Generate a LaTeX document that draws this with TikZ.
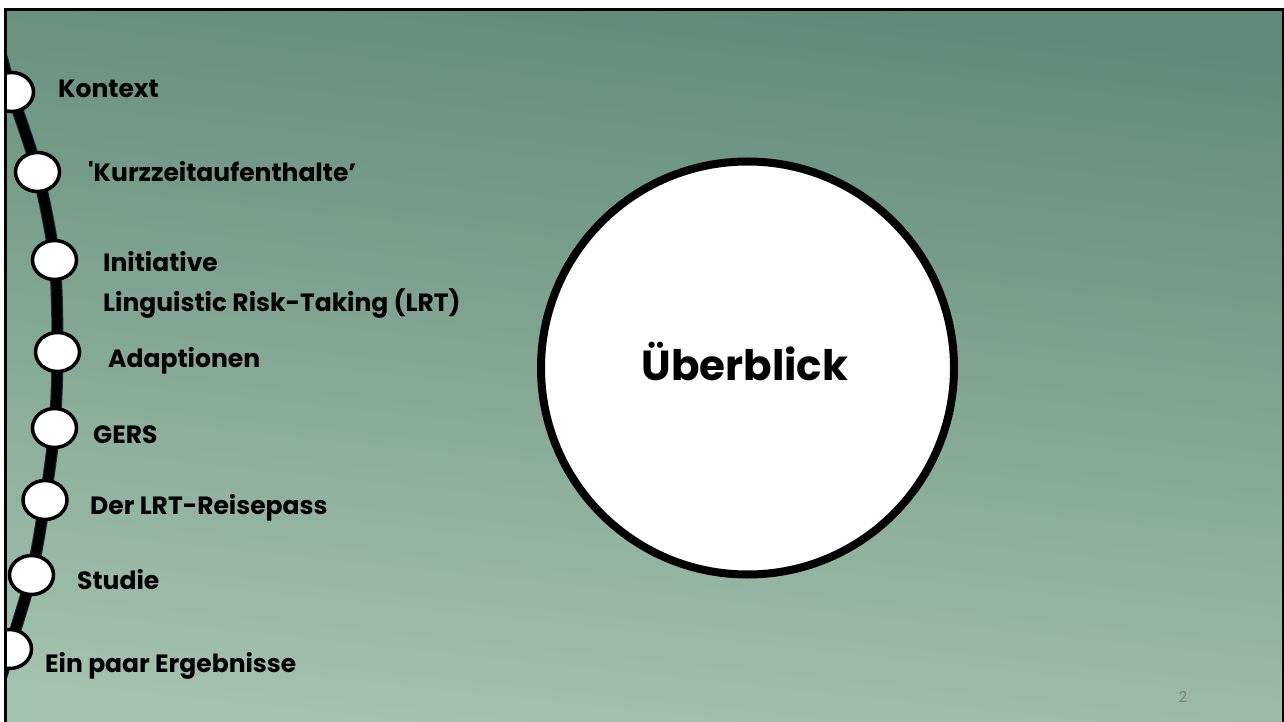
\documentclass[tikz,border=0pt]{standalone}
\usepackage{fontspec}
\setmainfont{Poppins}[Ligatures=TeXOff]
\newfontfamily\numfont{Carlito}
\usetikzlibrary{shapes.geometric}
\definecolor{bgtop}{HTML}{608A77}
\definecolor{bgbot}{HTML}{A4C2AE}
\definecolor{pgnum}{HTML}{7A8580}
\definecolor{lineedge}{HTML}{1C2B45}
\begin{document}
\begin{tikzpicture}[x=1pt,y=-1pt,
  stop/.style={ellipse,draw=black,fill=white,line width=3.5pt,inner sep=0pt,minimum width=44pt,minimum height=39pt},
  lbl/.style={anchor=base west,inner sep=0pt,font=\fontsize{25}{30}\selectfont\bfseries},
  track/.style={line width=10pt,black,line cap=round},
  trackedge/.style={line width=12pt,lineedge,line cap=round},
  bigcircle/.style={circle,draw=black,fill=white,line width=8pt,inner sep=0pt,minimum size=413pt},
]
\useasboundingbox (0,0) rectangle (1284,722);
\fill[white] (0,0) rectangle (1284,722);
\shade[top color=bgtop,bottom color=bgbot,shading angle=-6] (5,10) rectangle (1283,722);
\begin{scope}
\clip (5,10) rectangle (1283,722);
\coordinate (p0) at (2,58);
\coordinate (p1) at (11.5,92);
\coordinate (p2) at (37.5,172);
\coordinate (p3) at (54.5,260);
\coordinate (p4) at (57.5,352);
\coordinate (p5) at (54.5,428);
\coordinate (p6) at (45,500);
\coordinate (p7) at (31.5,575);
\coordinate (p8) at (9.5,649);
\coordinate (p9) at (2,675);
\draw[trackedge] plot[smooth] coordinates {(p0) (p1) (p2) (p3) (p4) (p5) (p6) (p7) (p8) (p9)};
\draw[track] plot[smooth] coordinates {(p0) (p1) (p2) (p3) (p4) (p5) (p6) (p7) (p8) (p9)};
\node[stop] (s1) at (p1) {};
\node[stop] (s2) at (p2) {};
\node[stop] (s3) at (p3) {};
\node[stop] (s4) at (p4) {};
\node[stop] (s5) at (p5) {};
\node[stop] (s6) at (p6) {};
\node[stop] (s7) at (p7) {};
\node[stop] (s8) at (p8) {};
\end{scope}
\node[lbl] (t1) at (58,98) {Kontext};
\node[lbl] (t2) at (88,182) {'Kurzzeitaufenthalte’};
\node[lbl] (t3) at (103,271) {Initiative};
\node[lbl] (t3b) at (103,311) {Linguistic Risk-Taking (LRT)};
\node[lbl] (t4) at (108,367) {Adaptionen};
\node[lbl] (t5) at (93,443) {GERS};
\node[lbl] (t6) at (90,514) {Der LRT-Reisepass};
\node[lbl] (t7) at (77,589) {Studie};
\node[lbl] (t8) at (45,672) {Ein paar Ergebnisse};
\node[bigcircle] (big) at (747.5,368) {};
\node[anchor=base,inner sep=0pt,font=\fontsize{42}{48}\selectfont\bfseries] (title) at (745,380) {Überblick};
\node[anchor=base,inner sep=0pt,text=pgnum,font=\numfont\fontsize{17}{19}\selectfont] (pg) at (1183,702) {2};
\draw[line width=3pt] (5,740) -- (5,10) -- (1283,10) -- (1283,740);
\end{tikzpicture}
\end{document}
